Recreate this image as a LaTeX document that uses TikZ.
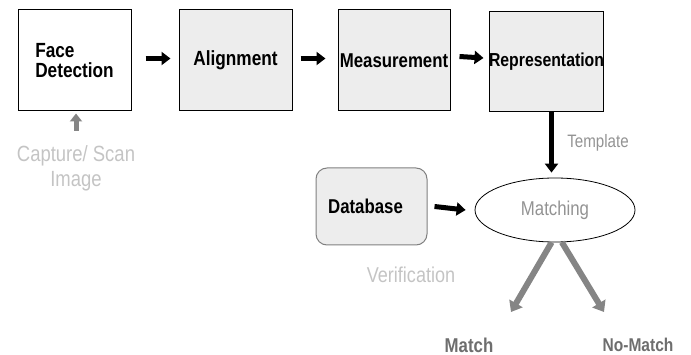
\documentclass[tikz,border=0pt]{standalone}
\usepackage{fontspec}
\setmainfont{Liberation Sans}[FakeStretch=0.84]
\usetikzlibrary{shapes.geometric,arrows.meta}
\definecolor{boxfill}{HTML}{EDEDED}
\definecolor{lightgr}{HTML}{C4C4C4}
\definecolor{midgr}{HTML}{939393}
\definecolor{arrgr}{HTML}{858585}
\definecolor{lblgr}{HTML}{6E6E6E}
\tikzset{
  stagebox/.style={draw=black,line width=1pt,fill=boxfill,minimum width=113pt,minimum height=101pt,inner sep=0pt,font=\bfseries\fontsize{20.5}{22}\selectfont},
  blk/.style={line width=5pt,-{Triangle[length=9pt,width=13pt]}},
  gry/.style={draw=arrgr,line width=6pt,-{Triangle[length=10pt,width=15pt]}},
}
\begin{document}
\begin{tikzpicture}[x=1pt,y=-1pt]
\useasboundingbox (0,0) rectangle (691,355);
\node[stagebox,fill=white,align=left] (fd) at (74.5,60.5) {Face\\[-2pt]Detection};
\node[stagebox] (al) at (235.5,60.5) {Alignment};
\node[stagebox,minimum width=112pt,font=\bfseries\fontsize{20}{22}\selectfont] (me) at (394,60.5) {Measurement};
\node[stagebox,minimum height=100pt,font=\bfseries\fontsize{18.8}{20}\selectfont] (re) at (546.5,62) {Representation};
\node[draw=gray,line width=1pt,fill=boxfill,rounded corners=11pt,minimum width=111pt,minimum height=77pt,font=\bfseries\fontsize{20}{22}\selectfont] (db) at (371.5,206.5) {Database\hspace*{12pt}};
\node[draw=black,line width=0.8pt,ellipse,minimum width=160pt,minimum height=64pt,inner sep=0pt,text=midgr,font=\fontsize{20}{22}\selectfont] (ma) at (555,210) {Matching};

\draw[blk] ([xshift=14pt,yshift=2pt]fd.east) -- ([xshift=-8pt,yshift=2pt]al.west);
\draw[blk] ([xshift=8pt,yshift=2pt]al.east) -- ([xshift=-12pt,yshift=2pt]me.west);
\draw[blk] ([xshift=9pt,yshift=4pt]me.east) -- ([xshift=-5pt,yshift=4pt]re.west);
\draw[blk] ([xshift=5pt]re.south) -- ([xshift=5pt,yshift=5pt]re.south |- ma.north);
\draw[blk] ([xshift=7pt]db.east) -- ([xshift=-9pt]ma.west);

\coordinate (cap) at (76,131);
\draw[draw=arrgr,line width=5pt,-{Triangle[length=8pt,width=12pt]}] (cap) -- ([yshift=-2pt]cap |- fd.south);
\node[text=lightgr,align=center,font=\fontsize{22}{25}\selectfont] (captxt) at (76,168) {Capture/ Scan\\Image};

\coordinate (mt) at (511,312);
\coordinate (nm) at (604,312);
\draw[gry] (ma.-96) -- (mt);
\draw[gry] (ma.-78) -- (nm);

\node[text=midgr,font=\fontsize{18}{20}\selectfont] (tpl) at (598,143) {Template};
\node[text=lightgr,font=\fontsize{21.5}{23}\selectfont] (ver) at (411,275) {Verification};
\node[text=lblgr,font=\bfseries\fontsize{20}{22}\selectfont] (mtxt) at (469,345) {Match};
\node[text=lblgr,font=\bfseries\fontsize{18.5}{20}\selectfont] (nmtxt) at (638,345) {No-Match};
\end{tikzpicture}
\end{document}
